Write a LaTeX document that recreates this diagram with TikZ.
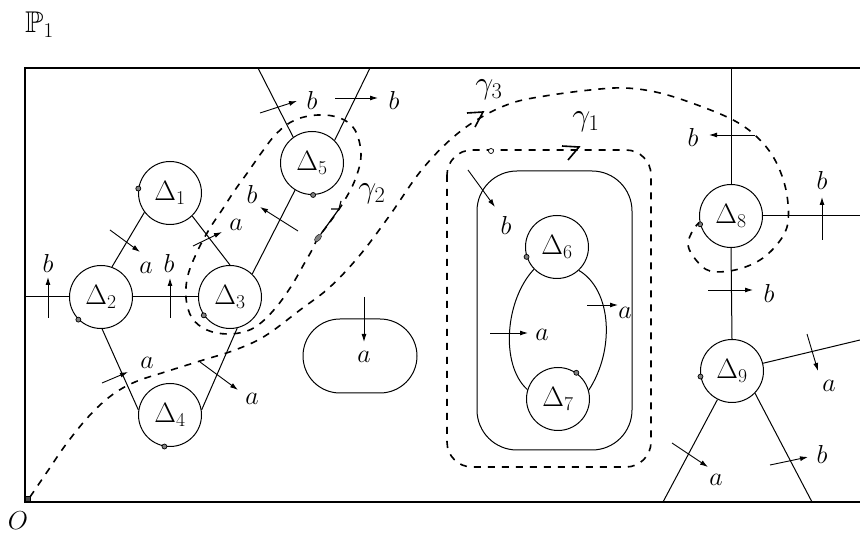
\RequirePackage{fix-cm}
\documentclass[tikz,border=0pt]{standalone}
\usepackage{amssymb}
\DeclareFontFamily{U}{msb}{}
\DeclareFontShape{U}{msb}{m}{n}{<-> msbm10}{}
\usetikzlibrary{arrows.meta,shapes.geometric}
\begin{document}
\begin{tikzpicture}[x=1pt,y=-1pt,
 vtx/.style={circle,draw,line width=1pt,minimum size=63pt,inner sep=0pt,font=\fontsize{28}{30}\selectfont},
 lbl/.style={inner sep=0pt,font=\fontsize{26}{28}\selectfont},
 edge/.style={line width=1pt},
 arr/.style={line width=0.9pt,-{Latex[length=8pt,width=5pt]}},
 dsh/.style={line width=1.6pt,dash pattern=on 7pt off 7pt},
 dotm/.style={circle,draw,fill=gray,inner sep=0pt,minimum size=5pt,line width=0.7pt},
 gam/.style={inner sep=0pt,font=\fontsize{32}{34}\selectfont}
]
\useasboundingbox (0,0) rectangle (860,534);

% title and origin
\node[inner sep=0pt,anchor=base west,font=\fontsize{30}{32}\selectfont] (P) at (25,33) {$\mathbb{P}_1$};
\node[lbl] (O) at (18,521) {$O$};

% frame
\coordinate (fTR) at (860,68);
\coordinate (fTL) at (25,68);
\coordinate (fBL) at (25,502);
\coordinate (fBR) at (860,502);
\draw[line width=1.3pt] (fTR) -- (fTL) -- (fBL) -- (fBR);
\node[draw,fill=black!70,inner sep=0pt,minimum size=5pt] (orig) at (28,499) {};

% vertices
\node[vtx] (d1) at (170,193) {$\Delta_1$};
\node[vtx] (d2) at (101,297) {$\Delta_2$};
\node[vtx] (d3) at (230,297) {$\Delta_3$};
\node[vtx] (d4) at (170,415) {$\Delta_4$};
\node[vtx] (d5) at (312,163) {$\Delta_5$};
\node[vtx] (d6) at (557,247) {$\Delta_6$};
\node[vtx] (d7) at (558,399) {$\Delta_7$};
\node[vtx] (d8) at (731,216) {$\Delta_8$};
\node[vtx] (d9) at (732,371) {$\Delta_9$};

% border points
\coordinate (e2) at (25,297);
\coordinate (e5l) at (258,68);
\coordinate (e5r) at (370,68);
\coordinate (e8t) at (731,68);
\coordinate (e8r) at (860,216);
\coordinate (e9r) at (860,340);
\coordinate (e9l) at (663,502);
\coordinate (e9b) at (812,502);

% edges
\draw[edge] (d1.-143) -- (d2.70);
\draw[edge] (d1.-46) -- (d3.90);
\draw[edge] (d2.east) -- (d3.west);
\draw[edge] (e2) -- (d2.west);
\draw[edge] (d2.-88) -- (d4.171);
\draw[edge] (d3.-77) -- (d4.9);
\draw[edge] (d3.46) -- (d5.-122);
\draw[edge] (d5.126) -- (e5l);
\draw[edge] (d5.45) -- (e5r);
\draw[edge] (e8t) -- (d8.north);
\draw[edge] (d8.south) -- (d9.north);
\draw[edge] (d8.east) -- (e8r);
\draw[edge] (d9.14) -- (e9r);
\draw[edge] (d9.-117) -- (e9l);
\draw[edge] (d9.-44) -- (e9b);
\draw[edge] (d6.-136) .. controls (505,300) and (500,365) .. (d7.163);
\draw[edge] (d6.-47) .. controls (612,290) and (615,350) .. (d7.16);

% regions
\draw[edge,rounded corners=40pt] (477,171) rectangle (632,450);
\draw[edge,rounded corners=37pt] (303,319) rectangle (417,393);

% markers on circles
\node[dotm] (m1) at (d1.172) {};
\node[dotm] (m2) at (d2.-135) {};
\node[dotm] (m3) at (d3.-145) {};
\node[dotm] (m4) at (d4.-100) {};
\node[dotm] (m5) at (d5.-88) {};
\node[dotm] (m6) at (d6.-162) {};
\node[dotm] (m7) at (d7.55) {};
\node[dotm] (m8) at (d8.-165) {};
\node[dotm] (m9) at (d9.-170) {};

% transversal arrows with labels
\coordinate (t1) at (48,318);  \coordinate (h1) at (48,277);
\coordinate (t2) at (170,318); \coordinate (h2) at (170,278);
\coordinate (t3) at (110,230); \coordinate (h3) at (140,252);
\coordinate (t4) at (193,246); \coordinate (h4) at (222,232);
\coordinate (t5) at (298,231); \coordinate (h5) at (260,207);
\coordinate (t6) at (260,113); \coordinate (h6) at (297,101);
\coordinate (t7) at (335,98);  \coordinate (h7) at (378,98);
\coordinate (t8) at (102,383); \coordinate (h8) at (128,372);
\coordinate (t9) at (200,362); \coordinate (h9) at (238,390);
\coordinate (t10) at (468,170); \coordinate (h10) at (495,207);
\coordinate (t11) at (490,333); \coordinate (h11) at (528,333);
\coordinate (t12) at (587,305); \coordinate (h12) at (618,305);
\coordinate (t13) at (755,135); \coordinate (h13) at (709,135);
\coordinate (t14) at (822,240); \coordinate (h14) at (822,197);
\coordinate (t15) at (708,290); \coordinate (h15) at (753,290);
\coordinate (t16) at (807,334); \coordinate (h16) at (818,371);
\coordinate (t17) at (672,443); \coordinate (h17) at (708,467);
\coordinate (t18) at (770,465); \coordinate (h18) at (808,457);
\coordinate (t19) at (364,297); \coordinate (h19) at (364,342);
\foreach \i in {1,...,19} {\draw[arr] (t\i) -- (h\i);}

\node[lbl] (l1) at (48,263) {$b$};
\node[lbl] (l2) at (169,263) {$b$};
\node[lbl] (l3) at (146,268) {$a$};
\node[lbl] (l4) at (236,225) {$a$};
\node[lbl] (l5) at (252,194) {$b$};
\node[lbl] (l6) at (312,100) {$b$};
\node[lbl] (l7) at (394,100) {$b$};
\node[lbl] (l8) at (147,363) {$a$};
\node[lbl] (l9) at (252,399) {$a$};
\node[lbl] (l10) at (506,225) {$b$};
\node[lbl] (l11) at (542,335) {$a$};
\node[lbl] (l12) at (625,313) {$a$};
\node[lbl] (l13) at (693,137) {$b$};
\node[lbl] (l14) at (822,180) {$b$};
\node[lbl] (l15) at (769,293) {$b$};
\node[lbl] (l16) at (829,386) {$a$};
\node[lbl] (l17) at (716,480) {$a$};
\node[lbl] (l18) at (822,454) {$b$};
\node[lbl] (l19) at (364,357) {$a$};

% gamma 1
\draw[dsh,rounded corners=25pt] (447,150) rectangle (651,467);
\node[dotm,fill=white] (g1dot) at (491,151) {};
\draw[line width=1.6pt] (562,146) -- (579,147) -- (568,160);
\node[gam] (g1) at (586,122) {$\gamma_1$};

% gamma 3
\draw[dsh] plot[smooth,tension=0.6] coordinates {(30,497) (45,475) (67,443) (90,415) (112,395) (135,382) (165,372) (200,361) (235,350) (265,336) (300,310) (330,287) (360,255) (390,215) (420,172) (450,140) (480,118) (512,103) (545,96) (590,90) (625,88) (660,93) (700,106) (735,121) (758,138) (775,160) (786,190) (788,222) (779,242) (760,260) (735,270) (710,271) (696,260) (688,245) (693,230) (699,223)};
\draw[line width=1.6pt] (467,113) -- (483,112) -- (475,127);
\node[gam] (g3) at (489,90) {$\gamma_3$};

% gamma 2
\draw[dsh] plot[smooth cycle,tension=0.6] coordinates {(318,238) (330,222) (343,203) (355,180) (361,155) (355,130) (340,118) (318,115) (295,120) (277,133) (262,152) (248,172) (235,190) (222,210) (210,228) (198,250) (188,275) (186,298) (192,318) (207,330) (227,334) (247,331) (262,322) (278,305) (292,285) (304,264) (312,250)};
\node[ellipse,draw,fill=gray,inner sep=0pt,minimum width=9pt,minimum height=5pt,rotate=50] (blob) at (318,238) {};
\coordinate (g2h) at (339,209);
\draw[line width=1.2pt] (blob) -- (g2h);
\draw[line width=1.2pt] (331,209) -- (339,209) -- (341,201);
\node[gam] (g2) at (372,194) {$\gamma_2$};
\end{tikzpicture}
\end{document}
